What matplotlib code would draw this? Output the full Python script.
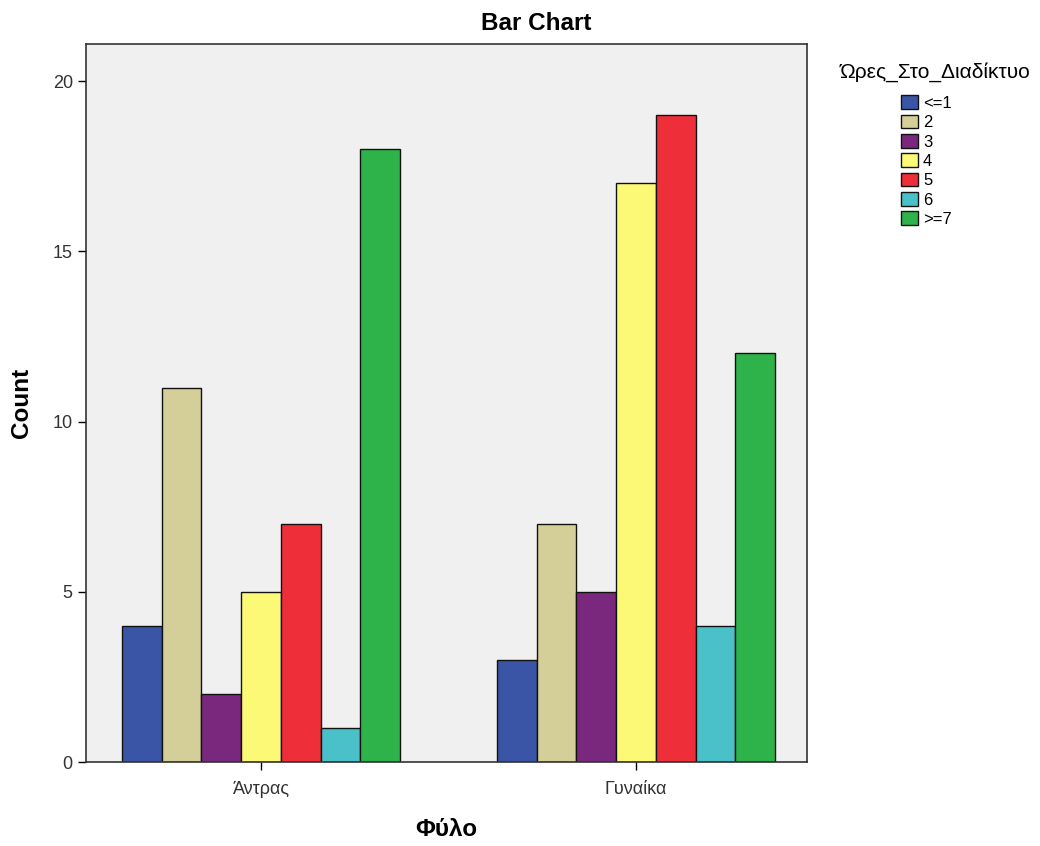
import matplotlib
matplotlib.use("Agg")
import matplotlib.pyplot as plt
import numpy as np
from matplotlib.patches import Patch

plt.rcParams["font.family"] = ["Liberation Sans", "DejaVu Sans"]

categories = ["Άντρας", "Γυναίκα"]
hours = ["<=1", "2", "3", "4", "5", "6", ">=7"]
counts_men = [4, 11, 2, 5, 7, 1, 18]
counts_women = [3, 7, 5, 17, 19, 4, 12]
colors = ["#3a55a6", "#d4cf98", "#7a287e", "#fbf975", "#ee2f39", "#4ac1c9", "#2eb34b"]

fig = plt.figure(figsize=(10.4, 8.46), dpi=100)
ax = fig.add_axes([86/1040, 84/846, 721/1040, 718/846])
ax.set_facecolor("#f0f0f0")

x = np.arange(len(categories))
w = 0.106
for i, h in enumerate(hours):
    vals = [counts_men[i], counts_women[i]]
    ax.bar(x + (i - 3) * w, vals, w, color=colors[i], edgecolor="#111", linewidth=1.0, zorder=2)

ax.set_xlim(-0.467, 1.456)
ax.set_ylim(0, 21.09)
ax.set_yticks([0, 5, 10, 15, 20])
ax.set_xticks(x)
ax.set_xticklabels(categories, fontsize=13, color="#333")
ax.tick_params(axis="y", labelsize=13, labelcolor="#333", length=6, width=1)
ax.tick_params(axis="x", length=6, width=1, pad=8)
for s in ax.spines.values():
    s.set_color("#333")
    s.set_linewidth(1.2)

fig.text(536/1040, 1 - 23/846, "Bar Chart", fontsize=17.5, fontweight="bold",
         ha="center", va="center")
ax.set_ylabel("Count", fontsize=17.5, fontweight="bold", labelpad=14)
ax.set_xlabel("Φύλο", fontsize=17.5, fontweight="bold", labelpad=14)

# legend title placed separately so the entries can sit like the original
fig.text(840/1040, 1 - 72/846, "Ώρες_Στο_Διαδίκτυο", fontsize=15,
         ha="left", va="center")
handles = [Patch(facecolor=c, edgecolor="#111", label=h) for c, h in zip(colors, hours)]
leg = fig.legend(handles=handles, loc="upper left",
                 bbox_to_anchor=(898/1040, 1 - 92/846), frameon=False,
                 fontsize=12, handlelength=1.0, handleheight=0.9,
                 labelspacing=0.22, handletextpad=0.3, borderpad=0.2, borderaxespad=0)

fig.savefig("out.png", dpi=100)
